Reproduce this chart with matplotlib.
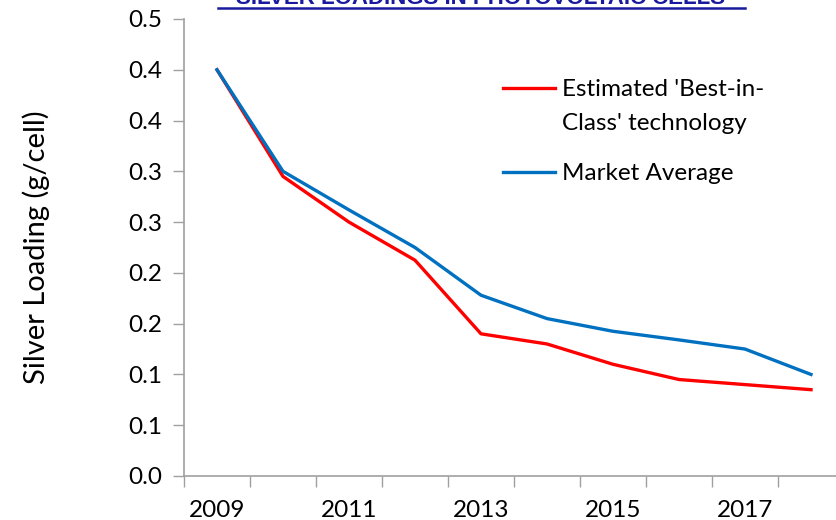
import matplotlib.pyplot as plt
from matplotlib.lines import Line2D
from matplotlib.ticker import FixedLocator, FixedFormatter, NullFormatter

plt.rcParams["font.family"] = ["Lato", "DejaVu Sans"]

# data (g/cell)
years = ["2009", "2010", "2011", "2012", "2013", "2014", "2015", "2016", "2017", "2018"]
best_in_class = [0.400, 0.295, 0.250, 0.2125, 0.140, 0.130, 0.110, 0.095, 0.090, 0.085]
market_average = [0.400, 0.300, 0.262, 0.225, 0.178, 0.155, 0.1425, 0.134, 0.125, 0.100]
y_ticks = [0.0, 0.05, 0.10, 0.15, 0.20, 0.25, 0.30, 0.35, 0.40, 0.45]
y_tick_labels = ["0.0", "0.1", "0.1", "0.2", "0.2", "0.3", "0.3", "0.4", "0.4", "0.5"]
series_labels = ["Estimated 'Best-in-\nClass' technology", "Market Average"]

RED, BLUE = "#ff0000", "#0070c0"
AXIS_GREY = "#a0a0a0"
W, H = 836, 520
FS = 17.5

fig = plt.figure(figsize=(W / 100, H / 100), dpi=100)
ax = fig.add_axes([184 / W, 44 / H, 660 / W, 457 / H])

x = list(range(len(years)))
red_line, = ax.plot(x, best_in_class, color=RED, linewidth=2.4)
blue_line, = ax.plot(x, market_average, color=BLUE, linewidth=2.4)

ax.set_xlim(-0.5, len(years) - 0.5)
ax.set_ylim(0.0, 0.45)

# category axis: tick marks between categories, labels on every other year
ax.xaxis.set_major_locator(FixedLocator([i - 0.5 for i in range(len(years))]))
ax.xaxis.set_major_formatter(NullFormatter())
ax.xaxis.set_minor_locator(FixedLocator(x[::2]))
ax.xaxis.set_minor_formatter(FixedFormatter(years[::2]))
ax.tick_params(axis="x", which="major", direction="out", length=8, width=1, color=AXIS_GREY)
ax.tick_params(axis="x", which="minor", length=0, pad=17, labelsize=FS)

ax.yaxis.set_major_locator(FixedLocator(y_ticks))
ax.yaxis.set_major_formatter(FixedFormatter(y_tick_labels))
ax.tick_params(axis="y", direction="out", length=8, width=1, color=AXIS_GREY,
               labelsize=FS, pad=8)

for side in ("top", "right"):
    ax.spines[side].set_visible(False)
for side in ("left", "bottom"):
    ax.spines[side].set_color(AXIS_GREY)
    ax.spines[side].set_linewidth(1.2)

ax.set_ylabel("Silver Loading (g/cell)", fontsize=21, labelpad=56)

# Excel-style legend: handle lines up with the first text line
for line, label, y_px in [(red_line, series_labels[0], 88), (blue_line, series_labels[1], 172)]:
    fig.add_artist(Line2D([503 / W, 555 / W], [1 - y_px / H] * 2, transform=fig.transFigure,
                          color=line.get_color(), linewidth=line.get_linewidth()))
    fig.text(562 / W, 1 - (y_px - 9) / H, label, ha="left", va="top",
             fontsize=FS, linespacing=1.75)

# clipped, underlined title
fig.text(481 / W, 1 - 4 / H, "SILVER LOADINGS IN PHOTOVOLTAIC CELLS",
         ha="center", va="baseline", fontsize=16, fontweight="bold", color="#1a1a9e",
         family="Liberation Sans")
fig.add_artist(Line2D([218 / W, 745 / W], [1 - 8 / H, 1 - 8 / H],
                      transform=fig.transFigure, color="#1a1a9e", linewidth=1.8))

fig.savefig("out.png", dpi=100)
